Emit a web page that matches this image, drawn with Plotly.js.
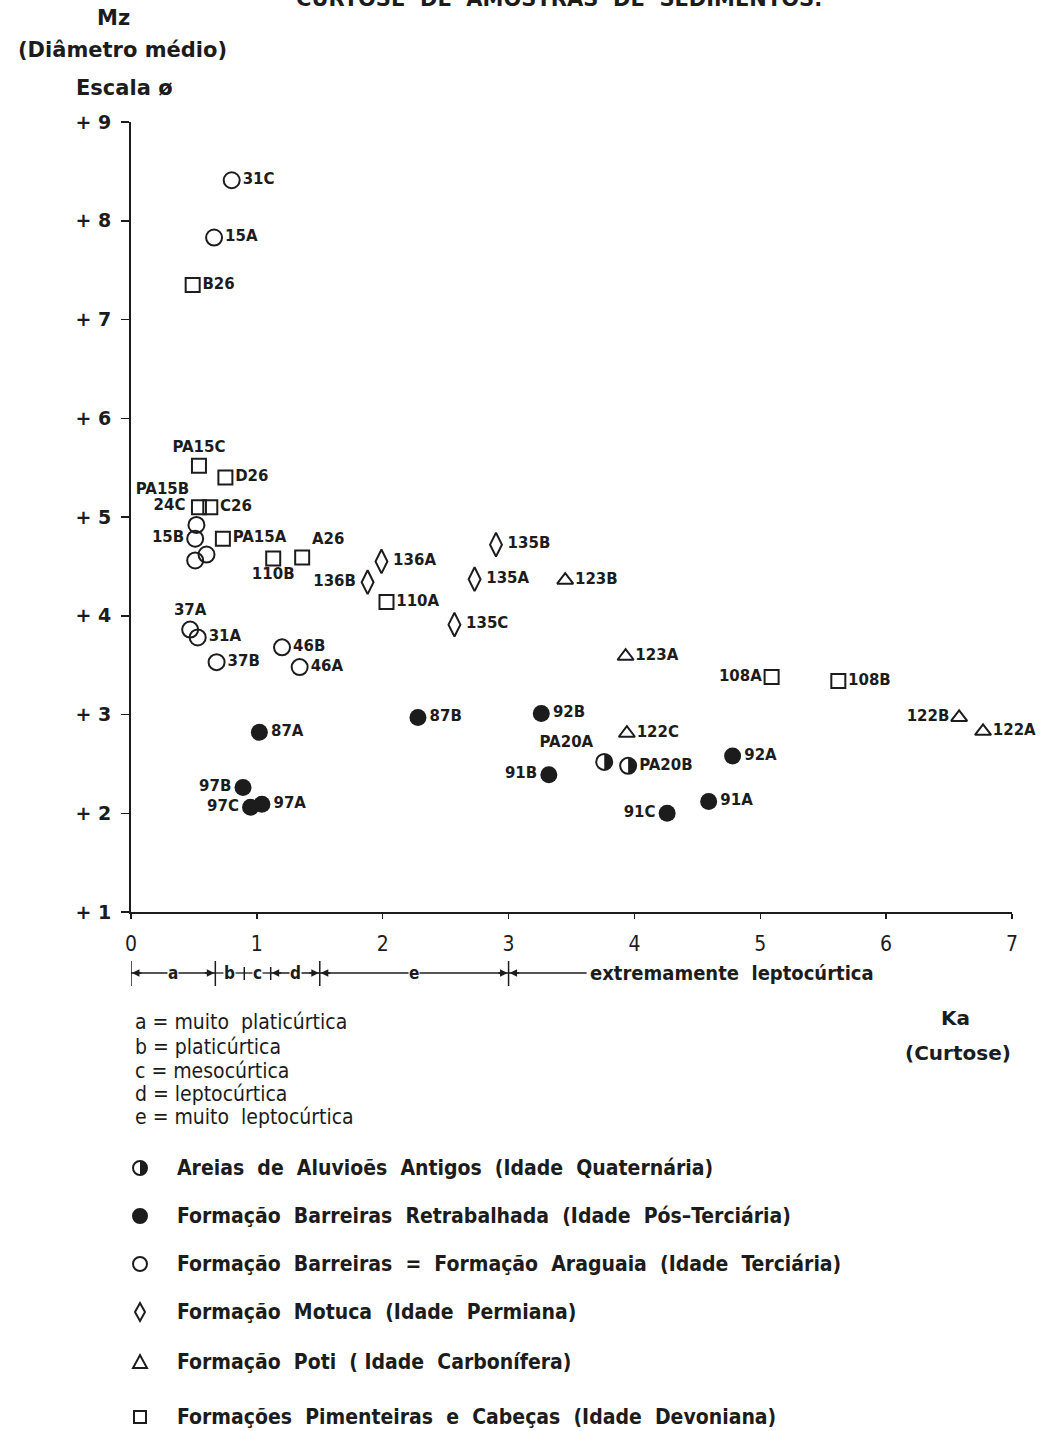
<!DOCTYPE html>
<html>
<head>
<meta charset="utf-8">
<script src="https://cdn.plot.ly/plotly-3.0.1.min.js"></script>
<style>html,body{margin:0;padding:0;background:#fff;}#chart{width:1051px;height:1431px;}</style>
</head>
<body>
<div id="chart"></div>
<script>
// ---------------- DATA ----------------
// Areias de Aluviões Antigos (Quaternária) - half filled circles
const aluvioesLabels = ["PA20A", "PA20B"];
const aluvioesKa = [3.76, 3.95];
const aluvioesMz = [2.52, 2.48];

// Formação Barreiras Retrabalhada (Pós-Terciária) - filled circles
const retrabLabels = ["87A", "87B", "92B", "92A", "91B", "91A", "91C", "97B", "97C", "97A"];
const retrabKa = [1.02, 2.28, 3.26, 4.78, 3.32, 4.59, 4.26, 0.89, 0.95, 1.04];
const retrabMz = [2.82, 2.97, 3.01, 2.58, 2.39, 2.12, 2.00, 2.26, 2.06, 2.09];

// Formação Barreiras = Formação Araguaia (Terciária) - open circles
const araguaiaLabels = ["31C", "15A", "24C", "15B", "", "", "37A", "31A", "37B", "46B", "46A"];
const araguaiaKa = [0.80, 0.66, 0.52, 0.51, 0.51, 0.60, 0.47, 0.53, 0.68, 1.20, 1.34];
const araguaiaMz = [8.41, 7.83, 4.92, 4.78, 4.56, 4.62, 3.86, 3.78, 3.53, 3.68, 3.48];

// Formação Motuca (Permiana) - diamonds
const motucaLabels = ["136A", "136B", "135B", "135A", "135C"];
const motucaKa = [1.99, 1.88, 2.90, 2.73, 2.57];
const motucaMz = [4.55, 4.34, 4.72, 4.37, 3.91];

// Formação Poti (Carbonífera) - triangles
const potiLabels = ["123B", "123A", "122C", "122B", "122A"];
const potiKa = [3.45, 3.93, 3.94, 6.58, 6.77];
const potiMz = [4.36, 3.59, 2.81, 2.97, 2.83];

// Formações Pimenteiras e Cabeças (Devoniana) - squares
const pimLabels = ["B26", "PA15C", "D26", "PA15B", "C26", "PA15A", "110B", "A26", "110A", "108A", "108B"];
const pimKa = [0.49, 0.54, 0.75, 0.54, 0.63, 0.73, 1.13, 1.36, 2.03, 5.09, 5.62];
const pimMz = [7.35, 5.52, 5.40, 5.10, 5.10, 4.78, 4.58, 4.59, 4.14, 3.38, 3.34];

// Axis ticks
const yTickVals = [1, 2, 3, 4, 5, 6, 7, 8, 9];
const yTickText = ["+ 1", "+ 2", "+ 3", "+ 4", "+ 5", "+ 6", "+ 7", "+ 8", "+ 9"];
const xTickVals = [0, 1, 2, 3, 4, 5, 6, 7];

// Kurtosis classes (Folk & Ward)
const classBounds = [0, 0.67, 0.90, 1.11, 1.50, 3.00];
const classLetters = ["a", "b", "c", "d", "e"];
const classNames = ["muito  platicúrtica", "platicúrtica", "mesocúrtica", "leptocúrtica", "muito  leptocúrtica"];
const extremeLabel = "extremamente  leptocúrtica";

// Legend texts
const legendNames = [
  "Areias  de  Aluvioẽs  Antigos  (Idade  Quaternária)",
  "Formação  Barreiras  Retrabalhada  (Idade  Pós–Terciária)",
  "Formação  Barreiras  =  Formação  Araguaia  (Idade  Terciária)",
  "Formação  Motuca  (Idade  Permiana)",
  "Formação  Poti  ( Idade  Carbonífera)",
  "Formações  Pimenteiras  e  Cabeças  (Idade  Devoniana)"
];

// ---------------- STYLE ----------------
const aluvioesPos = ["top left", "middle right"];
const retrabPos = ["middle right", "middle right", "middle right", "middle right", "middle left", "middle right", "middle left", "middle left", "middle left", "middle right"];
const araguaiaPos = ["middle right", "middle right", "top left", "middle left", "middle right", "middle right", "top center", "middle right", "middle right", "middle right", "middle right"];
const motucaPos = ["middle right", "middle left", "middle right", "middle right", "middle right"];
const potiPos = ["middle right", "middle right", "middle right", "middle left", "middle right"];
const pimPos = ["middle right", "top center", "middle right", "top left", "middle right", "middle right", "bottom center", "top right", "middle right", "middle left", "middle right"];

const FONT = "'DejaVu Sans', Lato, sans-serif";
const FONTC = "'DejaVu Sans Condensed', 'DejaVu Sans', sans-serif";
const INK = "#1c1c1c";
const W = 1051, H = 1431;
const M = {l: 131, r: 39, t: 122, b: 519};
const PW = W - M.l - M.r, PH = H - M.t - M.b;
const pX = px => (px - M.l) / PW;
const pY = py => (M.t + PH - py) / PH;

function mk(ka, mz, labels, pos, marker) {
  return {
    type: 'scatter', mode: 'markers+text', x: ka, y: mz, text: labels,
    textposition: pos, marker: marker, cliponaxis: false, showlegend: false,
    hoverinfo: 'skip',
    textfont: {family: FONT, size: 15, weight: 'bold', color: INK}
  };
}
const lineM = {color: INK, width: 2};
const traces = [
  mk(araguaiaKa, araguaiaMz, araguaiaLabels, araguaiaPos, {symbol: 'circle-open', size: 16, line: lineM, color: INK}),
  mk(pimKa, pimMz, pimLabels, pimPos, {symbol: 'square-open', size: 14, line: lineM, color: INK}),
  mk(motucaKa, motucaMz, motucaLabels, motucaPos, {symbol: 'diamond-tall-open', size: 17, line: lineM, color: INK}),
  mk(potiKa, potiMz, potiLabels, potiPos, {symbol: 'triangle-up-open', size: 14, line: lineM, color: INK}),
  mk(retrabKa, retrabMz, retrabLabels, retrabPos, {symbol: 'circle', size: 17, color: INK, line: {width: 0}}),
  mk(aluvioesKa, aluvioesMz, aluvioesLabels, aluvioesPos, {symbol: 'circle-open', size: 16, line: lineM, color: INK})
];

// half-disc path (right half) in pixel units
function halfPath(r) {
  let s = "";
  for (let i = 0; i <= 16; i++) {
    const a = -Math.PI / 2 + Math.PI * i / 16;
    s += (i === 0 ? "M" : "L") + (r * Math.cos(a)).toFixed(2) + "," + (r * Math.sin(a)).toFixed(2) + " ";
  }
  return s + "Z";
}

const shapes = [];
aluvioesKa.forEach((k, i) => {
  shapes.push({type: 'path', xref: 'x', yref: 'y', xsizemode: 'pixel', ysizemode: 'pixel',
    xanchor: k, yanchor: aluvioesMz[i], path: halfPath(7.5), fillcolor: INK, line: {width: 0}});
});

// Kurtosis class bar under x axis
const barY = pY(973);
classBounds.forEach((b, i) => {
  const tall = (i === 0 || i === 1 || i === 4 || i === 5);
  shapes.push({type: 'line', xref: 'x', yref: 'paper', x0: b, x1: b,
    y0: pY(tall ? 961 : 967), y1: pY(tall ? 986 : 980), line: {color: INK, width: 1.5}});
});
for (let i = 0; i < classLetters.length; i++) {
  shapes.push({type: 'line', xref: 'x', yref: 'paper', x0: classBounds[i], x1: classBounds[i + 1],
    y0: barY, y1: barY, line: {color: INK, width: 1.3}});
}
shapes.push({type: 'line', xref: 'x', yref: 'paper', x0: classBounds[5], x1: 3.62, y0: barY, y1: barY, line: {color: INK, width: 1.3}});

// legend symbols (paper coords, pixel sizes)
const legY = [1168, 1216, 1264, 1312, 1362, 1417];
const lx = pX(140);
function legShape(idx, type, path, fill) {
  const base = {xref: 'paper', yref: 'paper', xsizemode: 'pixel', ysizemode: 'pixel',
    xanchor: lx, yanchor: pY(legY[idx]), line: {color: INK, width: 2}, fillcolor: fill || 'rgba(0,0,0,0)'};
  if (type === 'circle') Object.assign(base, {type: 'circle', x0: -7, x1: 7, y0: -7, y1: 7});
  else if (type === 'rect') Object.assign(base, {type: 'rect', x0: -6, x1: 6, y0: -6, y1: 6});
  else Object.assign(base, {type: 'path', path: path});
  shapes.push(base);
}
legShape(0, 'circle');
shapes.push({type: 'path', xref: 'paper', yref: 'paper', xsizemode: 'pixel', ysizemode: 'pixel',
  xanchor: lx, yanchor: pY(legY[0]), path: halfPath(7), fillcolor: INK, line: {width: 0}});
legShape(1, 'circle', null, INK);
legShape(2, 'circle');
legShape(3, 'path', "M0,9 L5,0 L0,-9 L-5,0 Z");
legShape(4, 'path', "M-7,-6 L7,-6 L0,7 Z");
legShape(5, 'rect');

// ---------------- ANNOTATIONS ----------------
const ann = [];
function txt(text, px, py, font, opts) {
  ann.push(Object.assign({xref: 'paper', yref: 'paper', x: pX(px), y: pY(py), text: text, showarrow: false,
    xanchor: 'center', yanchor: 'middle', font: Object.assign({family: FONT, color: INK}, font)}, opts || {}));
}
const B = s => ({size: s, weight: 'bold'});
txt("CURTOSE  DE  AMOSTRAS  DE  SEDIMENTOS.", 559, -1, B(21));
txt("Mz", 113, 18, B(21));
txt("(Diâmetro médio)", 122, 50, B(21));
txt("Escala ø", 124, 88, B(21));
txt("Ka", 955, 1018, B(20));
txt("(Curtose)", 958, 1053, B(20));

for (let i = 0; i < classLetters.length; i++) {
  ann.push({xref: 'x', yref: 'paper', x: (classBounds[i] + classBounds[i + 1]) / 2, y: barY,
    xanchor: 'center', yanchor: 'middle',
    text: classLetters[i], showarrow: false, bgcolor: '#ffffff', borderpad: 0,
    font: {family: FONTC, size: 17, color: INK, weight: 'bold'}});
}
ann.push({xref: 'paper', yref: 'paper', x: pX(588), y: barY, xanchor: 'left', yanchor: 'middle', text: extremeLabel,
  showarrow: false, font: {family: FONTC, size: 20, color: INK, weight: 'bold'}});
function arrowAt(xv, dir) {
  ann.push({xref: 'x', yref: 'paper', x: xv, y: barY, ax: dir * 12, ay: 0, text: '', showarrow: true,
    arrowhead: 2, arrowsize: 1, arrowwidth: 1.5, arrowcolor: INK, standoff: 1});
}
arrowAt(classBounds[0], 1); arrowAt(classBounds[1], -1);
arrowAt(classBounds[3], 1); arrowAt(classBounds[4], -1);
arrowAt(classBounds[4], 1); arrowAt(classBounds[5], -1);
arrowAt(classBounds[5], 1);

const defY = [1022, 1047, 1071, 1094, 1117];
classLetters.forEach((l, i) => {
  txt(l + " = " + classNames[i], 133, defY[i], {family: FONTC, size: 21}, {xanchor: 'left'});
});

legendNames.forEach((n, i) => {
  txt(n, 175, legY[i], {family: FONTC, size: 21, weight: 'bold'}, {xanchor: 'left'});
});

const layout = {
  width: W, height: H, margin: M, paper_bgcolor: '#fff', plot_bgcolor: '#fff', showlegend: false,
  font: {family: FONT, color: INK},
  xaxis: {range: [0, 7], tickvals: xTickVals, ticks: 'outside', ticklen: 5, tickwidth: 1.5, tickcolor: INK,
    showline: true, linecolor: INK, linewidth: 2, showgrid: false, zeroline: false,
    tickfont: {family: FONTC, size: 21, color: INK}, ticklabelstandoff: 7, fixedrange: true},
  yaxis: {range: [1, 9], tickvals: yTickVals, ticktext: yTickText, ticks: 'outside', ticklen: 8, tickwidth: 1.5,
    tickcolor: INK, showline: true, linecolor: INK, linewidth: 2, showgrid: false, zeroline: false,
    tickfont: {family: FONT, size: 19, color: INK, weight: 'bold'}, ticklabelstandoff: 6, fixedrange: true},
  shapes: shapes,
  annotations: ann
};

Plotly.newPlot('chart', traces, layout, {staticPlot: true, displayModeBar: false});
</script>
</body>
</html>
